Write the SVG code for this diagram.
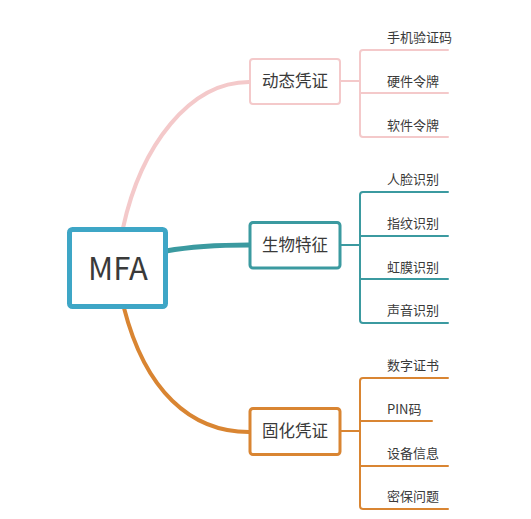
<svg xmlns="http://www.w3.org/2000/svg" width="531" height="519" viewBox="0 0 531 519">
<style>
text{font-family:"Noto Sans CJK SC","Noto Sans",sans-serif;fill:#3a3a3a}
.leaf{font-size:13px}
.br{font-size:16.5px;text-anchor:middle}
.box{fill:#fff}
.pk{stroke:#f4c9ca}
.tl{stroke:#3b9aa0}
.or{stroke:#d98532}
.c{fill:none;stroke-linecap:round}
</style>
<rect width="531" height="519" fill="#fff"/>
<g id="connectors">
<path class="c pk" stroke-width="4" d="M123,228 C141,145 190,82 249,82"/>
<path class="c tl" stroke-width="5" d="M166,251 Q200,245 249,245"/>
<path class="c or" stroke-width="4" d="M124,308 C145,390 190,432 249,432"/>
<path class="c pk" stroke-width="2" d="M341,81 H360 M448,50 H363 Q360,50 360,53 V134 Q360,137 363,137 H448 M360,93 H448"/>
<path class="c tl" stroke-width="2" d="M341,245 H360 M448,192 H363 Q360,192 360,195 V320 Q360,323 363,323 H448 M360,236 H448 M360,279 H448"/>
<path class="c or" stroke-width="2" d="M341,431 H360 M448,378 H363 Q360,378 360,381 V506 Q360,509 363,509 H448 M360,421 H432 M360,466 H448"/>
</g>
<g id="mfa">
<rect class="box" x="69.5" y="229.5" width="96" height="77" rx="3" stroke="#3ea6c6" stroke-width="5"/>
<text x="118" y="280" font-size="31" text-anchor="middle">MFA</text>
</g>
<g id="dynamic">
<rect class="box pk" x="250" y="59" width="90" height="45" rx="3" stroke-width="2"/>
<text class="br" x="295" y="87">动态凭证</text>
</g>
<g id="bio">
<rect class="box tl" x="250" y="222.5" width="90" height="45.5" rx="3" stroke-width="3"/>
<text class="br" x="295" y="251">生物特征</text>
</g>
<g id="solid">
<rect class="box or" x="250" y="408.5" width="90" height="46" rx="3" stroke-width="3"/>
<text class="br" x="295" y="437">固化凭证</text>
</g>
<g id="leaf-sms"><text class="leaf" x="387" y="42">手机验证码</text></g>
<g id="leaf-hw"><text class="leaf" x="387" y="86">硬件令牌</text></g>
<g id="leaf-sw"><text class="leaf" x="387" y="130">软件令牌</text></g>
<g id="leaf-face"><text class="leaf" x="387" y="184">人脸识别</text></g>
<g id="leaf-finger"><text class="leaf" x="387" y="228">指纹识别</text></g>
<g id="leaf-iris"><text class="leaf" x="387" y="272">虹膜识别</text></g>
<g id="leaf-voice"><text class="leaf" x="387" y="315">声音识别</text></g>
<g id="leaf-cert"><text class="leaf" x="387" y="370">数字证书</text></g>
<g id="leaf-pin"><text class="leaf" x="387" y="414">PIN码</text></g>
<g id="leaf-device"><text class="leaf" x="387" y="458">设备信息</text></g>
<g id="leaf-question"><text class="leaf" x="387" y="501">密保问题</text></g>
</svg>
